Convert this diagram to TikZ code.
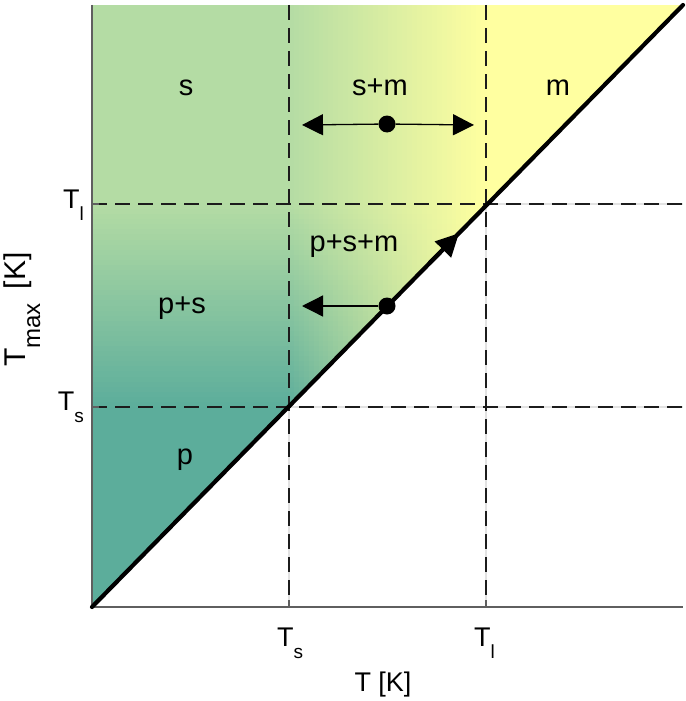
\documentclass[tikz,border=0pt]{standalone}
\usepackage{fontspec}
\setmainfont{Liberation Sans}
\usetikzlibrary{arrows.meta,calc}
\definecolor{pcol}{RGB}{92,173,155}
\definecolor{scol}{RGB}{180,220,164}
\definecolor{mcol}{RGB}{255,255,160}
\definecolor{dashcol}{RGB}{28,28,28}
\definecolor{axcol}{RGB}{95,95,95}
\definecolor{ghost}{RGB}{226,226,226}
\newcommand{\Tsub}[1]{T\raisebox{-12pt}{\fontsize{19}{19}\selectfont #1}}
\begin{document}
\begin{tikzpicture}[x=1pt,y=-1pt,
  lab/.style={font=\fontsize{29}{29}\selectfont, inner sep=0pt},
  ticklab/.style={font=\fontsize{27}{27}\selectfont, inner sep=0pt},
  dline/.style={draw=dashcol, line width=1.3pt, dash pattern=on 15pt off 8pt},
  ghostline/.style={draw=ghost, line width=1.3pt},
  axline/.style={draw=axcol, line width=1.2pt},
  dotn/.style={circle, fill=black, inner sep=0pt, minimum size=17pt},
  harrow/.style={line width=1.3pt, -{Triangle[length=21pt,width=21pt]}}]
\useasboundingbox (0,0) rectangle (685,701);
% key points
\coordinate (O) at (92,607);
\coordinate (E) at (683,5);
\coordinate (TL) at (92,5);
% coloured region
\begin{scope}
\clip (O) -- (E) -- (TL) -- cycle;
\fill[scol] (92,5) rectangle (289.5,204.5);
\fill[pcol] (92,607) rectangle (289.5,406.5);
\fill[mcol] (486,5) rectangle (683,204.5);
% left band: p -> s upwards
\foreach \j in {0,...,39}{
  \pgfmathsetmacro{\fa}{(\j+0.5)*2.5}
  \colorlet{tmpc}{scol!\fa!pcol}
  \fill[tmpc] (92, 407-\j*5.075) rectangle (289.6, 407-\j*5.075-5.7);
}
% top middle band: s -> m rightwards
\foreach \i in {0,...,39}{
  \pgfmathsetmacro{\fm}{(\i+0.5)*2.5}
  \colorlet{tmpc}{mcol!\fm!scol}
  \fill[tmpc] (289+\i*4.925, 5) rectangle (289+\i*4.925+5.5, 204.6);
}
% middle square: bilinear
\foreach \i in {0,...,39}{
  \foreach \j in {0,...,39}{
    \pgfmathsetmacro{\fm}{(\i+0.5)*2.5}
    \pgfmathsetmacro{\fa}{(\j+0.5)*2.5}
    \colorlet{tmpps}{scol!\fa!pcol}
    \colorlet{tmpc}{mcol!\fm!tmpps}
    \fill[tmpc] (289+\i*4.925, 407-\j*5.075) rectangle ++(5.5,-5.7);
  }
}
\end{scope}
% grid lines
\draw[ghostline] (289,407) -- (289,607);
\draw[ghostline] (486,204) -- (486,607);
\draw[ghostline] (289,407) -- (683,407);
\draw[ghostline] (486,204) -- (683,204);
\draw[dline] (289,5) -- (289,607);
\draw[dline] (486,5) -- (486,607);
\draw[dline] (92,407) -- (683,407);
\draw[dline] (92,204) -- (683,204);
% axes
\coordinate (XE) at (683,607);
\draw[axline] (TL) -- (O) -- (XE);
\draw[axline] (289,607) -- (289,600);
\draw[axline] (486,607) -- (486,600);
\draw[axline] (92,204) -- (99,204);
\draw[axline] (92,407) -- (99,407);
% diagonal
\draw[line width=4.2pt, line cap=round] (O) -- (E);
\coordinate (a1) at ($(O)!0.57!(E)$);
\coordinate (a2) at ($(O)!0.621!(E)$);
\draw[line width=4.2pt, -{Triangle[length=23pt,width=22pt]}] (a1) -- (a2);
% arrows and dots
\node[dotn] (d1) at (387,124) {};
\coordinate (l1) at (302,125);
\coordinate (r1) at (474,125);
\draw[harrow] (d1) -- (l1);
\draw[harrow] (d1) -- (r1);
\node[dotn] (d2) at (387,306) {};
\coordinate (l2) at (302,306);
\draw[harrow] (d2) -- (l2);
% region labels
\node[lab, anchor=base] (ls) at (186,95) {s};
\node[lab, anchor=base] (lsm) at (380,95) {s+m};
\node[lab, anchor=base] (lm) at (558,95) {m};
\node[lab, anchor=base] (lpsm) at (354,251) {p+s+m};
\node[lab, anchor=base] (lps) at (182,313) {p+s};
\node[lab, anchor=base] (lp) at (185,464) {p};
% tick labels
\node[ticklab, anchor=base west] (xts) at (277,646) {\Tsub{s}};
\node[ticklab, anchor=base west] (xtl) at (474,646) {\Tsub{l}};
\node[ticklab, anchor=base east] (ytl) at (84,208) {\Tsub{l}};
\node[ticklab, anchor=base east] (yts) at (84,410) {\Tsub{s}};
% axis labels
\node[ticklab, anchor=base] (xlab) at (383,691) {T [K]};
\node[inner sep=0pt, rotate=90, anchor=base west, font=\fontsize{30}{30}\selectfont] (ylab) at (25,367)
  {T\raisebox{-15pt}{\fontsize{24}{24}\selectfont max}\hspace{14pt}[K]};
\end{tikzpicture}
\end{document}
